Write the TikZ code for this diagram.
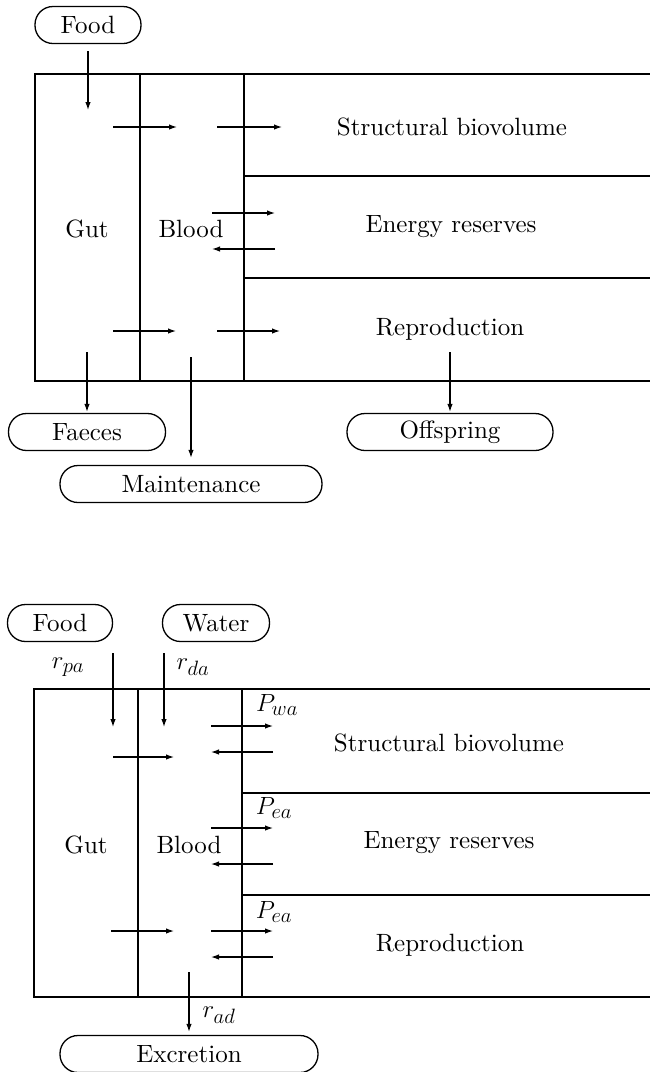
\documentclass[tikz,border=0pt]{standalone}
\usepackage{fontspec}
\setmainfont{lmroman10-regular.otf}
\usetikzlibrary{arrows.meta}
\tikzset{
  box/.style={line width=1.6pt},
  flow/.style={line width=1.2pt,-{Latex[length=8pt,width=5.5pt]}},
  pill/.style={draw,line width=1.3pt,rounded corners=18pt,minimum height=37pt,inner sep=0pt},
  lbl/.style={inner sep=0pt},
  mlbl/.style={inner sep=0pt,font=\fontsize{24.88}{30}\selectfont},
  every node/.style={font=\fontsize{25}{30}\selectfont}
}
\begin{document}
\begin{tikzpicture}[x=1pt,y=-1pt]
\useasboundingbox (0,0) rectangle (650,1072);
% ---------------- top diagram ----------------
\node[pill,minimum width=106pt] (foodA) at (88,25) {Food};
\coordinate (foodAin) at (88,110);
\draw[flow] ([yshift=-7pt]foodA.south) -- (foodAin);

\draw[box] (650,74) -- (35,74) -- (35,381) -- (650,381);
\draw[box] (140,74) -- (140,381);
\draw[box] (244,74) -- (244,381);
\draw[box] (244,176) -- (650,176);
\draw[box] (244,278) -- (650,278);

\node[lbl] (gutA) at (87,229) {Gut};
\node[lbl] (bloodA) at (191,229) {Blood};
\node[lbl] (structA) at (452,127) {Structural biovolume};
\node[lbl] (energyA) at (451,227) {Energy reserves};
\node[lbl] (reproA) at (450,329) {Reproduction};

\coordinate (a1s) at (113,127); \coordinate (a1e) at (177,127);
\coordinate (a2s) at (217,127); \coordinate (a2e) at (282,127);
\coordinate (a3s) at (212,213); \coordinate (a3e) at (275,213);
\coordinate (a4s) at (275,249); \coordinate (a4e) at (212,249);
\coordinate (a5s) at (113,331); \coordinate (a5e) at (176,331);
\coordinate (a6s) at (217,331); \coordinate (a6e) at (280,331);
\draw[flow] (a1s) -- (a1e);
\draw[flow] (a2s) -- (a2e);
\draw[flow] (a3s) -- (a3e);
\draw[flow] (a4s) -- (a4e);
\draw[flow] (a5s) -- (a5e);
\draw[flow] (a6s) -- (a6e);

\node[pill,minimum width=157pt] (faeces) at (87,432) {Faeces};
\node[pill,minimum width=262pt] (maint) at (191,484) {Maintenance};
\node[pill,minimum width=206pt] (offspring) at (450,432) {Offspring};
\coordinate (fs) at (87,352);
\coordinate (ms) at (191,357);
\coordinate (os) at (450,352);
\draw[flow] (fs) -- ([yshift=1pt]faeces.north);
\draw[flow] (ms) -- ([yshift=7pt]maint.north);
\draw[flow] (os) -- ([yshift=1pt]offspring.north);

% ---------------- bottom diagram ----------------
\node[pill,minimum width=105pt] (foodB) at (60,623) {Food};
\node[pill,minimum width=107pt] (water) at (216,623) {Water};
\node[mlbl] (rpa) at (68,667) {$r_{pa}$};
\node[mlbl] (rda) at (193,667) {$r_{da}$};
\coordinate (b1s) at (113,653); \coordinate (b1e) at (113,727);
\coordinate (b2s) at (164,653); \coordinate (b2e) at (164,727);
\draw[flow] (b1s) -- (b1e);
\draw[flow] (b2s) -- (b2e);

\draw[box] (650,689) -- (34,689) -- (34,997) -- (650,997);
\draw[box] (138,689) -- (138,997);
\draw[box] (242,689) -- (242,997);
\draw[box] (242,793) -- (650,793);
\draw[box] (242,895) -- (650,895);

\node[lbl] (gutB) at (86,845) {Gut};
\node[lbl] (bloodB) at (189,845) {Blood};
\node[lbl] (structB) at (449,743) {Structural biovolume};
\node[lbl] (energyB) at (449,843) {Energy reserves};
\node[lbl] (reproB) at (450,945) {Reproduction};

\node[mlbl] (pwa) at (277,705) {$P_{wa}$};
\node[mlbl] (pea1) at (274,808) {$P_{ea}$};
\node[mlbl] (pea2) at (274,912) {$P_{ea}$};

\coordinate (c1s) at (211,726); \coordinate (c1e) at (273,726);
\coordinate (c2s) at (273,752); \coordinate (c2e) at (211,752);
\coordinate (c3s) at (211,828); \coordinate (c3e) at (273,828);
\coordinate (c4s) at (273,864); \coordinate (c4e) at (211,864);
\coordinate (c5s) at (211,931); \coordinate (c5e) at (273,931);
\coordinate (c6s) at (273,957); \coordinate (c6e) at (211,957);
\coordinate (c7s) at (113,757); \coordinate (c7e) at (174,757);
\coordinate (c8s) at (111,931); \coordinate (c8e) at (174,931);
\draw[flow] (c1s) -- (c1e);
\draw[flow] (c2s) -- (c2e);
\draw[flow] (c3s) -- (c3e);
\draw[flow] (c4s) -- (c4e);
\draw[flow] (c5s) -- (c5e);
\draw[flow] (c6s) -- (c6e);
\draw[flow] (c7s) -- (c7e);
\draw[flow] (c8s) -- (c8e);

\node[pill,minimum width=258pt] (excr) at (189,1054) {Excretion};
\node[mlbl] (rad) at (219,1015) {$r_{ad}$};
\coordinate (es) at (189,972);
\draw[flow] (es) -- ([yshift=3pt]excr.north);
\end{tikzpicture}
\end{document}
